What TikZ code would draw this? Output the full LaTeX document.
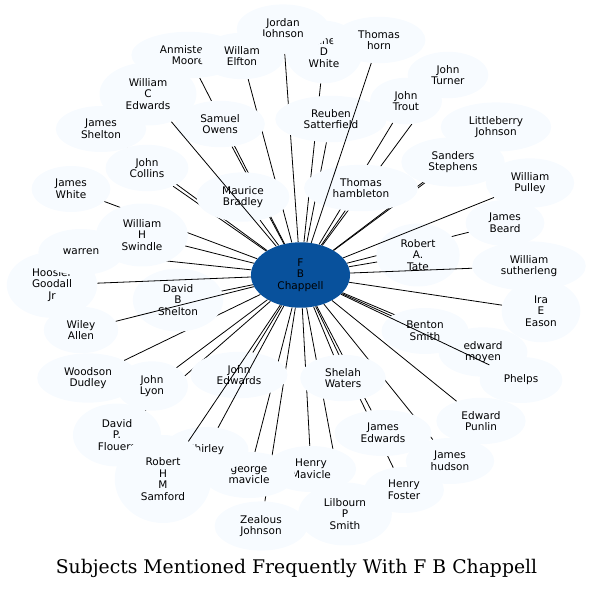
\documentclass[tikz,border=0pt]{standalone}
\usepackage{fontspec}
\setmainfont{DejaVu Sans}
\newfontfamily\titlefont{DejaVu Serif}
\usetikzlibrary{shapes.geometric}
\pgfdeclarelayer{back}
\pgfsetlayers{back,main}
\definecolor{paleblue}{HTML}{F7FBFF}
\definecolor{hubblue}{HTML}{08519C}

\begin{document}
\begin{tikzpicture}[x=1pt,y=1pt,
    every node/.style={align=center, font=\fontsize{10.5}{11.7}\selectfont},
    subject/.style={ellipse, fill=paleblue, inner xsep=12pt, inner ysep=6.5pt,
        minimum width=72pt, minimum height=46pt},
    hub/.style={subject, fill=hubblue},
    link/.style={line width=0.8pt},
]
\useasboundingbox (0,0) rectangle (593,590);

% people, back to front
\node[subject] (jane) at (324,538) {Jane\\D\\White};
\node[subject] (jordan) at (283,561) {Jordan\\Johnson};
\node[subject] (horn) at (379,550) {Thomas\\horn};
\node[subject] (anmistead) at (188,535) {Anmistead\\Moore};
\node[subject] (elfton) at (242,534) {Willam\\Elfton};
\node[subject] (wcedwards) at (148,496) {William\\C\\Edwards};
\node[subject] (owens) at (220,466) {Samuel\\Owens};
\node[subject] (jshelton) at (101,461) {James\\Shelton};
\node[subject] (collins) at (147,422) {John\\Collins};
\node[subject] (jwhite) at (71,401) {James\\White};
\node[subject] (bradley) at (243,393) {Maurice\\Bradley};
\node[subject] (reuben) at (331,471) {Reuben\\Satterfield};
\node[subject] (trout) at (406,489) {John\\Trout};
\node[subject] (turner) at (448,515) {John\\Turner};
\node[subject] (littleberry) at (496,463) {Littleberry\\Johnson};
\node[subject] (sanders) at (453,428) {Sanders\\Stephens};
\node[subject] (pulley) at (530,407) {William\\Pulley};
\node[subject] (hambleton) at (361,402) {Thomas\\hambleton};
\node[subject] (beard) at (505,367) {James\\Beard};
\node[subject] (tate) at (418,335) {Robert\\A.\\Tate};
\node[subject] (sutherleng) at (529,324) {William\\sutherleng};
\node[subject] (eason) at (541,279) {Ira\\E\\Eason};
\node[subject] (moyen) at (483,238) {edward\\moyen};
\node[subject] (benton) at (425,259) {Benton\\Smith};
\node[subject] (phelps) at (521,210) {Phelps};
\node[subject] (punlin) at (481,169) {Edward\\Punlin};
\node[subject] (hudson) at (450,129) {James\\hudson};
\node[subject] (jedwards) at (383,157) {James\\Edwards};
\node[subject] (foster) at (404,100) {Henry\\Foster};
\node[subject] (lilbourn) at (345,76) {Lilbourn\\P\\Smith};
\node[subject] (hmavicle) at (311,121) {Henry\\Mavicle};
\node[subject] (waters) at (343,212) {Shelah\\Waters};
\node[subject] (zealous) at (261,64) {Zealous\\Johnson};
\node[subject] (gmavicle) at (249,115) {george\\mavicle};
\node[subject] (shirley) at (206,140) {Shirley};
\node[subject] (flouers) at (117,155) {David\\P.\\Flouers};
\node[subject, minimum height=88pt] (samford) at (163,111) {Robert\\H\\M\\Samford};
\node[subject] (lyon) at (152,204) {John\\Lyon};
\node[subject] (woodson) at (88,212) {Woodson\\Dudley};
\node[subject] (jnedwards) at (239,215) {John\\Edwards};
\node[subject] (hoosier) at (52,305) {Hoosier\\Goodall\\Jr};
\node[subject] (warren) at (81,338) {warren};
\node[subject] (allen) at (81,260) {Wiley\\Allen};
\node[subject] (dbshelton) at (178,290) {David\\B\\Shelton};
\node[subject] (swindle) at (142,355) {William\\H\\Swindle};
\node[hub] (hub) at (300.5,315) {F\\B\\Chappell};

% links hidden behind the ellipses
\begin{pgfonlayer}{back}
\foreach \p in {jane,jordan,anmistead,elfton,owens,jshelton,collins,jwhite,
    bradley,reuben,trout,turner,littleberry,sanders,hambleton,beard,tate,eason,
    benton,moyen,punlin,hudson,jedwards,foster,lilbourn,hmavicle,waters,zealous,
    gmavicle,flouers,lyon,woodson,jnedwards,dbshelton,warren,swindle}
  \draw[link] (hub) -- (\p);
\end{pgfonlayer}
% links drawn over them
\foreach \p in {horn,wcedwards,pulley,sutherleng,phelps,samford,shirley,allen,hoosier}
  \draw[link] (hub) -- (\p);

\node[anchor=base, font=\titlefont\fontsize{18.8}{22}\selectfont] (title) at (296.5,17)
    {Subjects Mentioned Frequently With F B Chappell};
\end{tikzpicture}
\end{document}
